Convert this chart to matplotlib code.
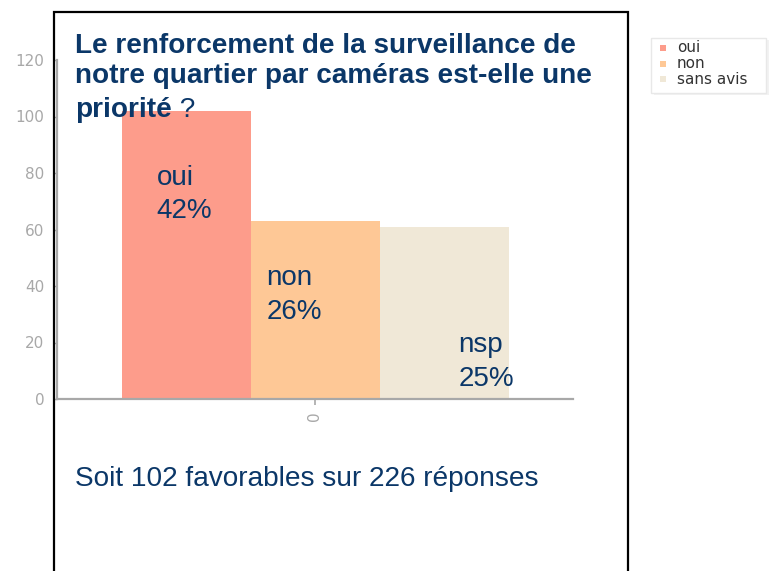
import matplotlib
matplotlib.use("Agg")
import matplotlib.pyplot as plt
from matplotlib.patches import Rectangle

# data
categories = ["oui", "non", "sans avis"]
counts = [102, 63, 61]
bar_labels = ["oui\n42%", "non\n26%", "nsp\n25%"]
bar_colors = ["#fd9c8b", "#fec896", "#f0e8d7"]
y_ticks = [0, 20, 40, 60, 80, 100, 120]

title_lines = "Le renforcement de la surveillance de\nnotre quartier par caméras est-elle une"
title_last_bold = "priorité"
title_last_rest = " ?"
footer = "Soit 102 favorables sur 226 réponses"

navy = "#0b3768"
grey = "#a8a8a8"

plt.rcParams["font.family"] = ["Liberation Sans", "DejaVu Sans"]

W, H = 769, 571
fig = plt.figure(figsize=(W / 100, H / 100), dpi=100)


def fx(px):
    return px / W


def fy(py):
    return 1 - py / H


# axes: y=0 at 399px, y=120 at 60px, x from 57px to 573px
ax = fig.add_axes([fx(57), fy(399), fx(573) - fx(57), (399 - 60) / H])
ax.set_xlim(-0.5, 0.5)
ax.set_ylim(0, 120)

width = 0.25
xs = [-width, 0, width]
ax.bar(xs, counts, width=width, color=bar_colors, edgecolor="none")

# label offsets from each bar's left edge, y = baseline of the last line
label_dx = [0.068, 0.031, 0.153]
label_y = [64.0, 28.3, 4.6]
for x, dx, ly, lab in zip(xs, label_dx, label_y, bar_labels):
    ax.text(x - width / 2 + dx, ly, lab, color=navy, fontsize=20,
            va="baseline", ha="left", linespacing=1.38)

for side in ["top", "right"]:
    ax.spines[side].set_visible(False)
for side in ["left", "bottom"]:
    ax.spines[side].set_color(grey)
    ax.spines[side].set_linewidth(1.6)

ax.set_yticks(y_ticks)
ax.set_yticklabels([str(t) for t in y_ticks], family="DejaVu Sans")
ax.tick_params(axis="y", colors=grey, labelsize=11, length=3, pad=6, width=1)
ax.set_xticks([0])
ax.set_xticklabels(["0"], rotation=90, family="DejaVu Sans")
ax.tick_params(axis="x", colors=grey, labelsize=11, length=4, pad=5, width=1.2)

# black framed text box on top of the chart
box = Rectangle((fx(54), fy(H + 20)), fx(628) - fx(54), fy(12) - fy(H + 20),
                transform=fig.transFigure, fill=False, edgecolor="black",
                linewidth=1.6, clip_on=False, zorder=5)
fig.patches.append(box)

# multi-line baseline -> last line baseline
fig.text(fx(75), fy(83), title_lines, color=navy, fontsize=20.1, weight="bold",
         va="baseline", ha="left", linespacing=1.22)
t_last = fig.text(fx(75), fy(117), title_last_bold, color=navy, fontsize=20.1,
                  weight="bold", va="baseline", ha="left")
fig.canvas.draw()
bb = t_last.get_window_extent()
fig.text(bb.x1 / W, fy(117), title_last_rest, color=navy, fontsize=20.1,
         va="baseline", ha="left")

fig.text(fx(75), fy(486), footer, color=navy, fontsize=20.2, va="baseline", ha="left")

# legend drawn by hand so the rows sit tight like the original
shadow = Rectangle((fx(654), fy(95)), fx(769) - fx(654), fy(40) - fy(95),
                   transform=fig.transFigure, facecolor="#f2f2f2", edgecolor="none")
frame = Rectangle((fx(651), fy(93)), fx(766) - fx(651), fy(38) - fy(93),
                  transform=fig.transFigure, facecolor="white", edgecolor="#e8e8e8",
                  linewidth=1.0)
fig.patches.extend([shadow, frame])
row_y = [48, 63.5, 79]
for ry, name, col in zip(row_y, categories, bar_colors):
    sq = Rectangle((fx(660), fy(ry + 3)), fx(6), 6 / H, transform=fig.transFigure,
                   facecolor=col, edgecolor="none")
    fig.patches.append(sq)
    fig.text(fx(677), fy(ry), name, color="#333333", fontsize=11,
             family="DejaVu Sans", va="center", ha="left")

fig.savefig("out.png", dpi=100)
